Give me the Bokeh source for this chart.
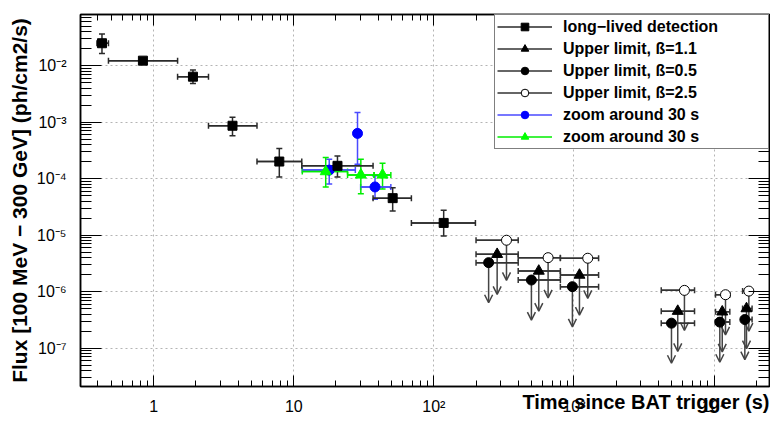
from bokeh.plotting import figure
from bokeh.models import (ColumnDataSource, Whisker, TeeHead, Arrow, OpenHead, LogAxis,
                          FixedTicker, CustomJSTickFormatter, Legend, LegendItem, Range1d)
from bokeh.embed import file_html
from bokeh.resources import INLINE

# ---------------- data ----------------
X_RANGE = (0.3, 24900)
Y_RANGE = (2.09e-8, 0.080)

X_TICKS = [1, 10, 100, 1000, 10000]
X_TICK_LABELS = ["1", "10", "10²", "10³", "10⁴"]
Y_TICKS = [1e-7, 1e-6, 1e-5, 1e-4, 1e-3, 1e-2]
Y_TICK_LABELS = ["10⁻⁷", "10⁻⁶", "10⁻⁵", "10⁻⁴", "10⁻³", "10⁻²"]

# long-lived detection
LL_T = [0.427, 0.837, 1.905, 3.65, 7.88, 20.5, 50.8, 117.5]
LL_T_LO = [0.393, 0.475, 1.48, 2.46, 5.46, 11.4, 36.8, 69.1]
LL_T_HI = [0.475, 1.48, 2.46, 5.46, 11.4, 36.8, 69.1, 198.0]
LL_F = [0.0248, 0.0122, 0.00635, 8.6e-4, 2.0e-4, 1.68e-4, 4.5e-5, 1.64e-5]
LL_F_LO = [0.0164, 0.0114, 0.00483, 5.7e-4, 1.07e-4, 1.07e-4, 2.67e-5, 9.6e-6]
LL_F_HI = [0.0363, 0.0130, 0.00836, 1.21e-3, 3.4e-4, 2.5e-4, 6.9e-5, 2.75e-5]

# upper limits: common time bins
UL_T_LO = [200, 400, 800, 4200, 10250, 16000]
UL_T_HI = [400, 800, 1500, 7260, 12970, 18700]
# beta = 1.1 (triangles)
UL11_T = [283, 561, 1095, 5510, 11450, 17060]
UL11_F = [4.57e-6, 2.31e-6, 1.96e-6, 4.5e-7, 4.38e-7, 5.0e-7]
# beta = 0.5 (filled circles)
UL05_T = [246, 497, 975, 4970, 11000, 16600]
UL05_F = [3.25e-6, 1.6e-6, 1.22e-6, 2.76e-7, 2.88e-7, 3.2e-7]
# beta = 2.5 (open circles)
UL25_T = [330, 654, 1255, 6150, 12080, 17730]
UL25_F = [8.1e-6, 3.98e-6, 3.89e-6, 1.05e-6, 8.8e-7, 1.02e-6]

# zoom around 30 s (blue)
ZB_T = [17.9, 28.5, 38.0]
ZB_T_LO = [11.5, 28.5, 30.0]
ZB_T_HI = [27.5, 28.5, 49.3]
ZB_F = [1.41e-4, 6.3e-4, 7.1e-5]
ZB_F_LO = [8.0e-5, 1.8e-4, 4.3e-5]
ZB_F_HI = [2.2e-4, 1.48e-3, 1.12e-4]

# zoom around 30 s (green)
ZG_T = [16.9, 30.1, 43.0]
ZG_T_LO = [11.5, 24.2, 37.4]
ZG_T_HI = [24.2, 37.4, 49.3]
ZG_F = [1.33e-4, 1.16e-4, 1.16e-4]
ZG_F_LO = [7.1e-5, 5.4e-5, 6.5e-5]
ZG_F_HI = [2.36e-4, 2.2e-4, 1.87e-4]

LABELS = ["long−lived detection", "Upper limit, ß=1.1", "Upper limit, ß=0.5",
          "Upper limit, ß=2.5", "zoom around 30 s", "zoom around 30 s"]
X_TITLE = "Time since BAT trigger (s)"
Y_TITLE = "Flux [100 MeV − 300 GeV] (ph/cm2/s)"

# ---------------- style ----------------
ARROW_FACTOR = 10 ** -0.71   # length of upper-limit arrows (fixed on screen)
FONT = "Liberation Sans"

p = figure(width=770, height=427, x_axis_type="log", y_axis_type="log",
           x_range=Range1d(*X_RANGE), y_range=Range1d(*Y_RANGE),
           output_backend="svg", toolbar_location=None,
           min_border_left=80, min_border_right=1, min_border_top=14, min_border_bottom=41)
p.outline_line_color = "black"
p.outline_line_width = 1.5
p.background_fill_color = "white"
p.border_fill_color = "white"

x_minor = [m * 10.0 ** d for d in range(-1, 5) for m in range(2, 10)]
y_minor = [m * 10.0 ** d for d in range(-8, 0) for m in range(2, 10)]
x_ticker = FixedTicker(ticks=X_TICKS, minor_ticks=x_minor)
y_ticker = FixedTicker(ticks=Y_TICKS, minor_ticks=y_minor)

fmt_code = """
const lt = Math.log10(tick);
for (let i = 0; i < vals.length; i++) {
  if (Math.abs(Math.log10(vals[i]) - lt) < 1e-6) { return labs[i]; }
}
return "";
"""
x_fmt = CustomJSTickFormatter(args=dict(vals=X_TICKS, labs=X_TICK_LABELS), code=fmt_code)
y_fmt = CustomJSTickFormatter(args=dict(vals=Y_TICKS, labs=Y_TICK_LABELS), code=fmt_code)


def style_axis(ax, ticker, fmt, major_in, minor_in, show):
    ax.ticker = ticker
    ax.formatter = fmt
    ax.major_tick_in = major_in
    ax.major_tick_out = 0
    ax.minor_tick_in = minor_in
    ax.minor_tick_out = 0
    ax.axis_line_color = "black"
    ax.axis_line_width = 1.5
    ax.major_tick_line_color = "black"
    ax.minor_tick_line_color = "black"
    ax.major_tick_line_width = 1
    ax.minor_tick_line_width = 1
    if show:
        ax.major_label_text_font = FONT
        ax.major_label_text_font_size = "16px"
        ax.major_label_text_color = "black"
    else:
        ax.major_label_text_font_size = "0px"
        ax.major_label_text_color = None
        ax.major_label_standoff = 0


xb = p.xaxis[0]
yl = p.yaxis[0]
style_axis(xb, x_ticker, x_fmt, 11, 6, True)
style_axis(yl, y_ticker, y_fmt, 21, 11, True)
xb.major_label_standoff = 11
yl.major_label_standoff = 14

yl.axis_label = Y_TITLE
yl.axis_label_text_font = FONT
yl.axis_label_text_font_style = "bold"
yl.axis_label_text_font_size = "21px"
yl.axis_label_text_color = "black"
yl.axis_label_standoff = 3

xb.axis_label = X_TITLE
xb.axis_label_text_font = FONT
xb.axis_label_text_font_style = "bold"
xb.axis_label_text_font_size = "20px"
xb.axis_label_text_color = "black"
xb.axis_label_standoff = -16
xb.axis_label_align = "end"
xb.axis_label_text_align = "right"
# a (visually zero) numeric orientation makes the label anchor at its right end
xb.axis_label_orientation = 1e-4

xt = LogAxis()
style_axis(xt, x_ticker, x_fmt, 11, 6, False)
p.add_layout(xt, "above")
yr = LogAxis()
style_axis(yr, y_ticker, y_fmt, 21, 11, False)
p.add_layout(yr, "right")

p.xgrid.ticker = x_ticker
p.ygrid.ticker = y_ticker
p.grid.grid_line_color = "#b4b4b4"
p.grid.grid_line_dash = "2 3"
p.grid.grid_line_width = 1


def add_errors(src, color, width, do_y=True):
    """Error bars with end caps; returns the horizontal-bar glyph renderer."""
    wx = Whisker(source=src, base="f", lower="tlo", upper="thi", dimension="width",
                 line_color=color, line_width=width,
                 lower_head=TeeHead(size=6, line_color=color, line_width=width),
                 upper_head=TeeHead(size=6, line_color=color, line_width=width),
                 level="underlay")
    p.add_layout(wx)
    if do_y:
        wy = Whisker(source=src, base="t", lower="flo", upper="fhi", dimension="height",
                     line_color=color, line_width=width,
                     lower_head=TeeHead(size=6, line_color=color, line_width=width),
                     upper_head=TeeHead(size=6, line_color=color, line_width=width),
                     level="underlay")
        p.add_layout(wy)
    return p.segment(x0="tlo", x1="thi", y0="f", y1="f", source=src,
                     line_color=color, line_width=width)


# blue zoom
src_b = ColumnDataSource(dict(t=ZB_T, tlo=ZB_T_LO, thi=ZB_T_HI, f=ZB_F, flo=ZB_F_LO, fhi=ZB_F_HI))
seg_b = add_errors(src_b, "#4a4aff", 1.5)
# green zoom
src_g = ColumnDataSource(dict(t=ZG_T, tlo=ZG_T_LO, thi=ZG_T_HI, f=ZG_F, flo=ZG_F_LO, fhi=ZG_F_HI))
seg_g = add_errors(src_g, "#00ee00", 1.5)
# long-lived
src_ll = ColumnDataSource(dict(t=LL_T, tlo=LL_T_LO, thi=LL_T_HI, f=LL_F, flo=LL_F_LO, fhi=LL_F_HI))
seg_ll = add_errors(src_ll, "#2a2a2a", 1.5)

# upper limits
ul_sets, ul_segs = [], []
for T, F in ((UL11_T, UL11_F), (UL05_T, UL05_F), (UL25_T, UL25_F)):
    src = ColumnDataSource(dict(t=T, f=F, tlo=UL_T_LO, thi=UL_T_HI,
                                tip=[v * ARROW_FACTOR for v in F]))
    ul_segs.append(add_errors(src, "#333333", 1.5, do_y=False))
    arr = Arrow(source=src, x_start="t", y_start="f", x_end="t", y_end="tip",
                line_color="#444444", line_width=1.5,
                end=OpenHead(size=8, line_color="#444444", line_width=1.5),
                level="underlay")
    p.add_layout(arr)
    ul_sets.append(src)

# markers
r_b = p.scatter("t", "f", source=src_b, marker="circle", size=10,
                fill_color="#0000ff", line_color="#0000ff")
r_g = p.scatter("t", "f", source=src_g, marker="triangle", size=11,
                fill_color="#00ff00", line_color="#00ff00")
r_ll = p.scatter("t", "f", source=src_ll, marker="square", size=9,
                 fill_color="black", line_color="black")
r_11 = p.scatter("t", "f", source=ul_sets[0], marker="triangle", size=11,
                 fill_color="black", line_color="black")
r_05 = p.scatter("t", "f", source=ul_sets[1], marker="circle", size=10,
                 fill_color="black", line_color="black")
r_25 = p.scatter("t", "f", source=ul_sets[2], marker="circle", size=10,
                 fill_color="white", line_color="black", line_width=1)

items = [
    LegendItem(label=LABELS[0], renderers=[seg_ll, r_ll]),
    LegendItem(label=LABELS[1], renderers=[ul_segs[0], r_11]),
    LegendItem(label=LABELS[2], renderers=[ul_segs[1], r_05]),
    LegendItem(label=LABELS[3], renderers=[ul_segs[2], r_25]),
    LegendItem(label=LABELS[4], renderers=[seg_b, r_b]),
    LegendItem(label=LABELS[5], renderers=[seg_g, r_g]),
]
legend = Legend(items=items, location="top_right", margin=0, padding=2, spacing=3,
                glyph_width=55, glyph_height=19, label_height=19, label_width=203,
                label_standoff=11, label_text_font=FONT, label_text_font_style="bold",
                label_text_font_size="16px", label_text_color="black",
                border_line_color="black", border_line_width=1.2,
                background_fill_color="white", background_fill_alpha=1.0)
p.add_layout(legend)

open("out.html", "w").write(file_html(p, INLINE))
